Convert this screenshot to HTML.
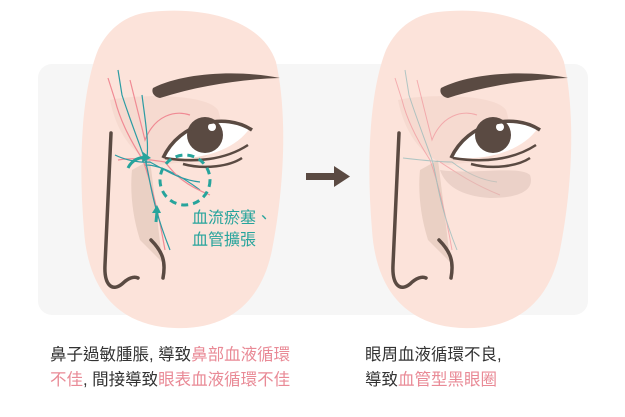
<!DOCTYPE html>
<html><head><meta charset="utf-8"><style>
html,body{margin:0;padding:0;background:#fff;width:625px;height:417px;overflow:hidden}
.t{position:absolute;font-family:"Liberation Sans","Noto Sans CJK TC",sans-serif;font-size:16.5px;color:#333;line-height:25px;white-space:nowrap}
.p{color:#e98a96}
</style></head><body>
<svg width="625" height="417" style="position:absolute;left:0;top:0">
<rect x="38" y="64" width="550" height="251" rx="14" fill="#f6f6f6"/>
<defs>
<g id="face">
<path d="M150,12 C205,6 262,20 276,62 C288,115 284,190 272,250 C262,300 230,330 175,328 C120,326 88,292 84,230 C78,160 82,90 98,50 C110,25 130,14 150,12Z" fill="#fce3da"/>
<path d="M110,100 C130,95 205,92 218,110 C225,130 220,150 200,160 L160,165 C140,160 118,140 110,100Z" fill="#f2d4c9" opacity="0.6"/>
<path d="M132,170 L150,160 C155,200 160,240 162,262 L140,240 C132,215 130,190 132,170Z" fill="#ead0c4"/>
<path d="M153,88 C185,72 240,70 280,78 C245,79 200,85 160,98 C154,97 151,92 153,88Z" fill="#5a4a42"/>
<path d="M163,157 C180,125 225,115 250,128 C235,150 200,162 163,157Z" fill="#fff"/>
<circle cx="205" cy="135" r="18" fill="#5a4a42"/>
<circle cx="212" cy="127" r="4" fill="#fff"/>
<path d="M163,158 C180,122 225,112 252,130" fill="none" stroke="#5a4a42" stroke-width="3.5"/>
<path d="M165,158 C195,163 225,160 248,145" fill="none" stroke="#5a4a42" stroke-width="2.5"/>
<path d="M183,164 C205,170 230,166 242,158" fill="none" stroke="#5a4a42" stroke-width="2.5"/>
<path d="M111,133 L105,265 C104,285 112,292 122,284 C128,278 134,276 138,278" fill="none" stroke="#5a4a42" stroke-width="3.5" stroke-linecap="round"/>
<path d="M151,240 C163,252 166,262 163,278" fill="none" stroke="#5a4a42" stroke-width="3.5" stroke-linecap="round"/>
</g>
</defs>
<use href="#face"/>
<use href="#face" transform="translate(288,0)"/>
<g fill="none" stroke-width="1.2">
<path d="M108,78 L115,100 C120,120 130,140 143,160 C150,180 158,210 165,250" stroke="#f08a94"/>
<path d="M118,70 L122,95 C130,120 140,145 145,160 C150,175 150,200 170,250" stroke="#2b9ca3"/>
<path d="M130,80 C135,100 140,120 145,140 C155,115 175,110 190,115" stroke="#f08a94"/>
<path d="M142,95 C145,120 150,145 146,165 C160,165 180,175 200,190" stroke="#2b9ca3"/>
<path d="M118,160 C130,158 140,158 165,162 C175,175 185,185 210,195" stroke="#f08a94"/>
<path d="M115,155 C125,160 140,163 150,162 C165,170 180,180 200,182" stroke="#2b9ca3"/>
</g>
<g fill="none" stroke-width="1" opacity="0.6">
<path d="M395,78 L402,100 C407,120 417,140 430,160 C437,180 445,210 452,250" stroke="#f08a94"/>
<path d="M405,70 L409,95 C417,120 427,145 432,160 C437,175 437,200 457,250" stroke="#7fb2b5"/>
<path d="M417,80 C422,100 427,120 432,140 C442,115 462,110 477,115" stroke="#f08a94"/>
<path d="M403,158 C420,160 440,162 452,162 C465,172 480,180 497,182" stroke="#7fb2b5"/>
<path d="M440,162 C460,175 475,185 500,195" stroke="#f08a94"/>
</g>
<path d="M440,170 C470,175 520,165 530,175 C535,190 520,198 490,198 C460,196 445,185 440,170Z" fill="#d9c0b6" opacity="0.5"/>
<circle cx="185" cy="180" r="25" fill="none" stroke="#27a49c" stroke-width="3" stroke-dasharray="7,5"/>
<path d="M128,168 C132,160 140,156 148,158" fill="none" stroke="#27a49c" stroke-width="3"/>
<path d="M143,152 L151,158 L142,162Z" fill="#27a49c"/>
<path d="M157,212 L156,222" stroke="#27a49c" stroke-width="3"/>
<path d="M152,213 L157,205 L161,213Z" fill="#27a49c"/>
<text x="192" y="223" font-family="Liberation Sans,Noto Sans CJK TC,sans-serif" font-size="16" fill="#27a49c">血流瘀塞、</text>
<text x="192" y="245" font-family="Liberation Sans,Noto Sans CJK TC,sans-serif" font-size="16" fill="#27a49c">血管擴張</text>
<rect x="306" y="173" width="30" height="7" fill="#5a4a42"/>
<path d="M334,166 L350,176.5 L334,187Z" fill="#5a4a42"/>
</svg>
<div class="t" style="left:50px;top:343px">鼻子過敏腫脹, 導致<span class="p">鼻部血液循環</span><br><span class="p">不佳</span>, 間接導致<span class="p">眼表血液循環不佳</span></div>
<div class="t" style="left:365px;top:343px">眼周血液循環不良,<br>導致<span class="p">血管型黑眼圈</span></div>
</body></html>
